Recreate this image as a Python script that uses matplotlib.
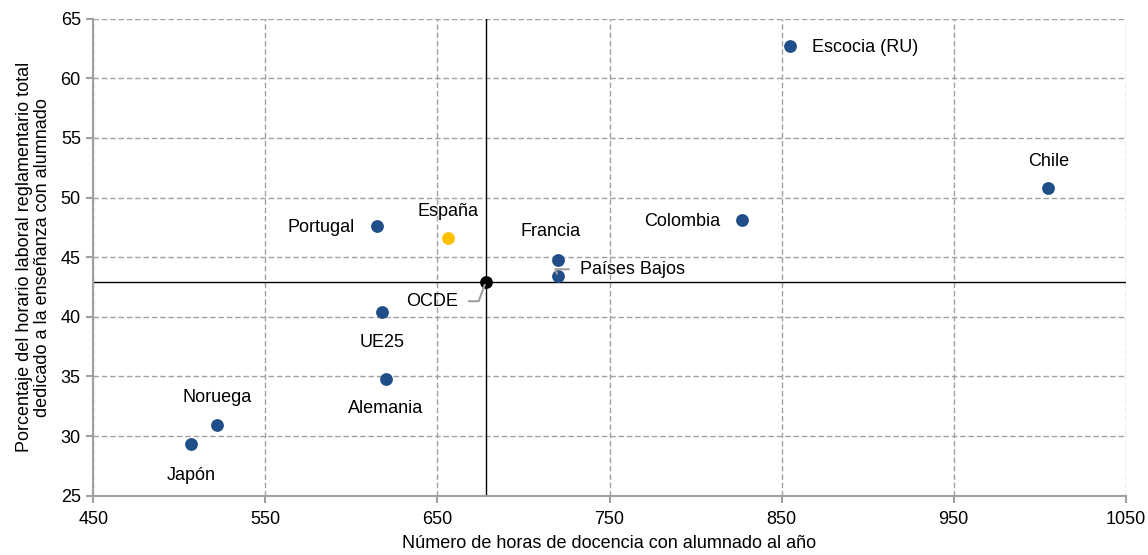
import matplotlib.pyplot as plt

plt.rcParams['font.family'] = ['Liberation Sans', 'DejaVu Sans']

# datos
paises = ["Escocia (RU)", "Chile", "Colombia", "Portugal", "España", "Francia",
          "Países Bajos", "OCDE", "UE25", "Alemania", "Noruega", "Japón"]
horas = [855, 1005, 827, 615, 656, 720, 720, 678, 618, 620, 522, 507]
porcentaje = [62.7, 50.8, 48.1, 47.6, 46.6, 44.8, 43.4, 42.9, 40.4, 34.8, 30.9, 29.3]

# desplazamiento de etiquetas (px) y alineacion
offsets = {"Escocia (RU)": (22, -1, 'left'), "Chile": (0, 27, 'center'),
           "Colombia": (-22, -1, 'right'), "Portugal": (-22, -1, 'right'),
           "España": (0, 27, 'center'), "Francia": (-7, 28, 'center'),
           "Países Bajos": (22, 7, 'left'), "OCDE": (-28, -19, 'right'),
           "UE25": (0, -30, 'center'), "Alemania": (0, -30, 'center'),
           "Noruega": (0, 28, 'center'), "Japón": (0, -31, 'center')}

azul = "#1F4E89"
fs = 13
fig = plt.figure(figsize=(11.48, 5.55), dpi=100)
ax = fig.add_axes([0.0813, 0.1069, 0.8993, 0.8594])

ocde_x = horas[paises.index("OCDE")]
ocde_y = porcentaje[paises.index("OCDE")]
ax.axhline(ocde_y, color='black', lw=1, zorder=2)
ax.axvline(ocde_x, color='black', lw=1, zorder=2)

for p, x, y in zip(paises, horas, porcentaje):
    c = azul
    if p == "España":
        c = "#FFC000"
    elif p == "OCDE":
        c = "black"
    ax.scatter(x, y, s=85, color=c, zorder=4, linewidths=0)
    dx, dy, ha = offsets[p]
    kw = {}
    if p == "OCDE":
        kw['arrowprops'] = dict(arrowstyle='-', color='#A0A0A0', lw=1.5,
                                connectionstyle='angle,angleA=0,angleB=70,rad=0',
                                relpos=(1, 0.5), shrinkA=6, shrinkB=2)
    elif p == "Países Bajos":
        kw['arrowprops'] = dict(arrowstyle='-', color='#A0A0A0', lw=1.5,
                                connectionstyle='angle,angleA=0,angleB=110,rad=0',
                                relpos=(0, 0.5), shrinkA=6, shrinkB=2)
    ax.annotate(p, (x, y), xytext=(dx * 0.72, dy * 0.72), textcoords='offset points',
                ha=ha, va='center', fontsize=fs, zorder=5, **kw)

ax.set_xlim(450, 1050)
ax.set_ylim(25, 65)
ax.set_xticks(range(450, 1051, 100))
ax.set_yticks(range(25, 66, 5))
ax.grid(True, ls=(0, (4, 2)), color='#A0A0A0', lw=1)
ax.set_axisbelow(True)
for s in ['top', 'right']:
    ax.spines[s].set_visible(False)
for s in ['left', 'bottom']:
    ax.spines[s].set_color('#A0A0A0')
    ax.spines[s].set_linewidth(1.5)
ax.tick_params(colors='#A0A0A0', labelcolor='black', labelsize=fs, length=5, width=1.5)
ax.tick_params(axis='x', pad=6)
ax.tick_params(axis='y', pad=4)

ax.set_xlabel("Número de horas de docencia con alumnado al año", fontsize=fs, labelpad=5)
ax.set_ylabel("Porcentaje del horario laboral reglamentario total\ndedicado a la enseñanza con alumnado",
              fontsize=fs, labelpad=7, linespacing=1.1)

fig.savefig("out.png", dpi=100)
